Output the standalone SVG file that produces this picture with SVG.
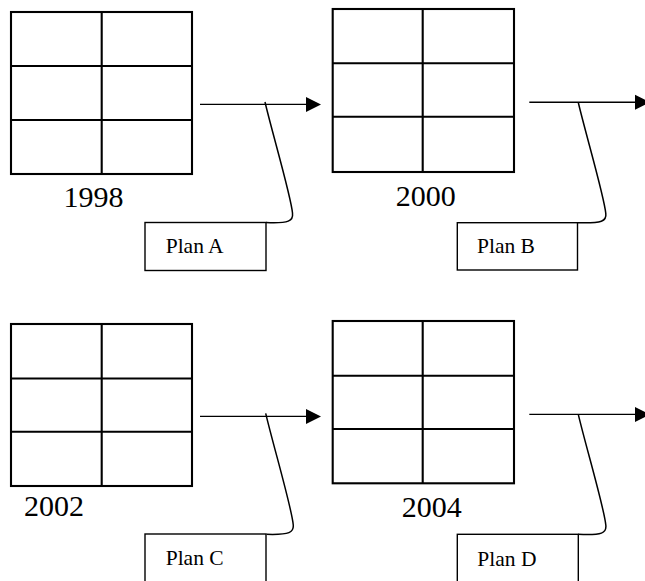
<svg xmlns="http://www.w3.org/2000/svg" width="645" height="581" viewBox="0 0 645 581">
  <style>
    .grid { fill: none; stroke: #000; stroke-width: 2.1; }
    .box { fill: #fff; stroke: #000; stroke-width: 1.4; }
    .flow { fill: none; stroke: #000; stroke-width: 1.4; }
    .hook { fill: none; stroke: #000; stroke-width: 1.5; }
    .year { font-size: 30px; fill: #000; }
    .plan { font-size: 21.5px; fill: #000; }
  </style>
  <defs>
    <marker id="head" markerUnits="userSpaceOnUse" markerWidth="16" markerHeight="16" refX="0" refY="7.5" orient="auto" overflow="visible">
      <path d="M0,0 L15,7.5 L0,15 Z" fill="#000"/>
    </marker>
  </defs>
  <rect width="645" height="581" fill="#fff"/>

  <g font-family="'Liberation Serif', 'Times New Roman', Times, 'DejaVu Serif', serif">
  <!-- year grids -->
  <g id="grid-1998">
    <rect class="grid" x="11" y="12" width="181" height="162"/>
    <path class="grid" d="M101.7,12 V174 M11,66 H192 M11,120 H192"/>
    <text class="year" x="63.4" y="206.5">1998</text>
  </g>
  <g id="grid-2000">
    <rect class="grid" x="332.7" y="9" width="181.3" height="163"/>
    <path class="grid" d="M422.7,9 V172 M332.7,63.3 H514 M332.7,116.7 H514"/>
    <text class="year" x="395.7" y="206">2000</text>
  </g>
  <g id="grid-2002">
    <rect class="grid" x="11" y="324" width="181" height="162"/>
    <path class="grid" d="M101.7,324 V486 M11,378.5 H192 M11,431.7 H192"/>
    <text class="year" x="24" y="516">2002</text>
  </g>
  <g id="grid-2004">
    <rect class="grid" x="332.7" y="321" width="181.3" height="162.3"/>
    <path class="grid" d="M422.7,321 V483.3 M332.7,375.7 H514 M332.7,429 H514"/>
    <text class="year" x="401.7" y="516.5">2004</text>
  </g>

  <!-- plan boxes -->
  <g id="plan-a">
    <rect class="box" x="145" y="222.5" width="121" height="48"/>
    <text class="plan" x="165.7" y="253">Plan A</text>
  </g>
  <g id="plan-b">
    <rect class="box" x="457.3" y="222.7" width="120.2" height="47.3"/>
    <text class="plan" x="477" y="253.3">Plan B</text>
  </g>
  <g id="plan-c">
    <rect class="box" x="145" y="534" width="121" height="60"/>
    <text class="plan" x="165.7" y="565">Plan C</text>
  </g>
  <g id="plan-d">
    <rect class="box" x="457.3" y="534.3" width="121" height="60"/>
    <text class="plan" x="477.3" y="566">Plan D</text>
  </g>
  </g>

  <!-- arrows and the hooks tying each plan to its arrow -->
  <g id="connectors">
    <line class="flow" x1="200" y1="104.4" x2="306" y2="104.4" marker-end="url(#head)"/>
    <line class="flow" x1="529.3" y1="102.3" x2="635" y2="102.3" marker-end="url(#head)"/>
    <line class="flow" x1="200" y1="416.4" x2="306" y2="416.4" marker-end="url(#head)"/>
    <line class="flow" x1="529.3" y1="414.4" x2="635" y2="414.4" marker-end="url(#head)"/>

    <path class="hook" d="M265,102 C272,132 291,196 292.5,213 C293.5,221 289,223.5 266,222.5"/>
    <path class="hook" d="M578.3,102.5 C585.3,132.5 604.3,196.5 605.8,213.5 C606.8,221 602.3,223.5 577.5,222.7"/>
    <path class="hook" d="M265.7,413.3 C272.7,443.3 291.7,507.5 293.2,524.5 C294.2,532.5 289.7,535 266.5,534.3"/>
    <path class="hook" d="M578.3,414.3 C585.3,444.3 604.3,508 605.8,525 C606.8,533 602.3,535.5 578.3,534.3"/>
  </g>
</svg>
